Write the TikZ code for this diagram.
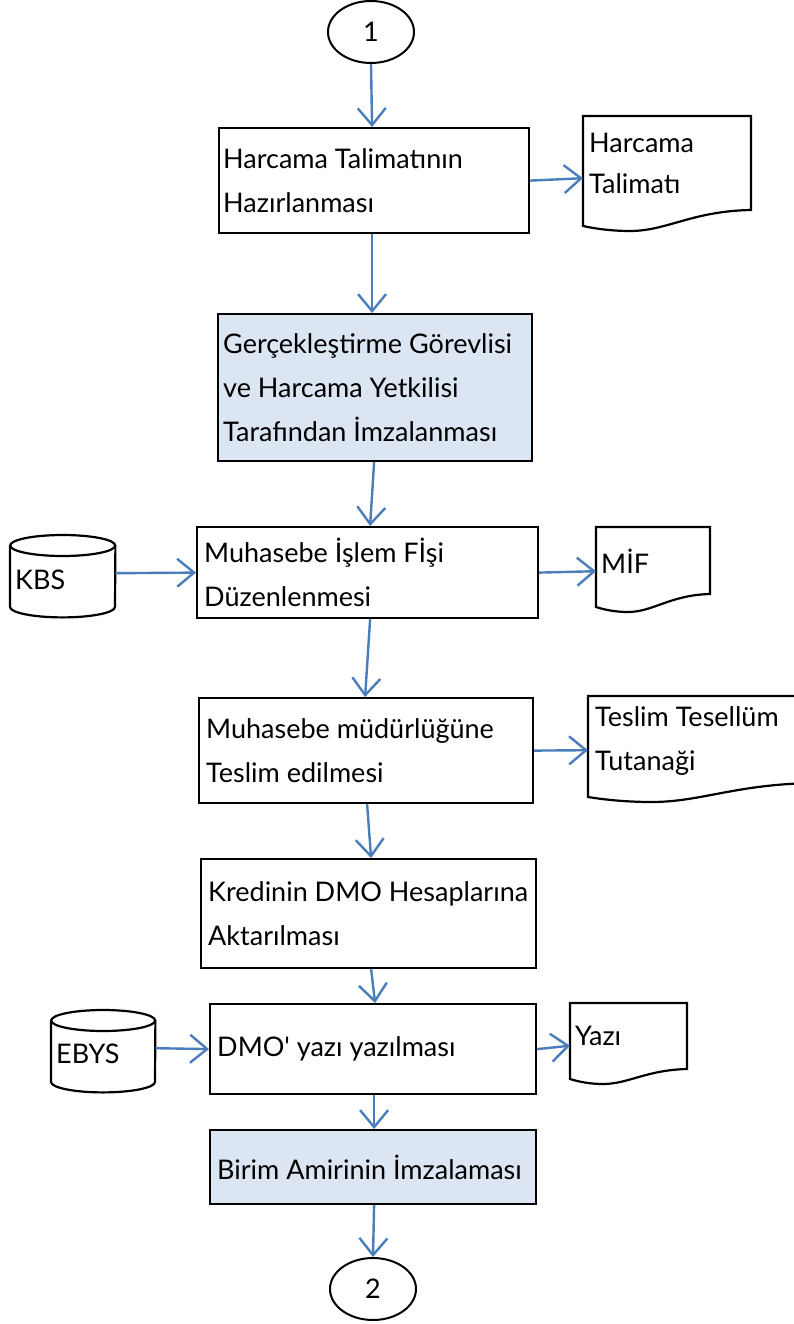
\documentclass[tikz,border=0pt]{standalone}
\usepackage{fontspec}
\setmainfont{Lato}
\usetikzlibrary{arrows.meta,shapes.geometric,calc}
\definecolor{arrowblue}{RGB}{74,126,187}
\definecolor{boxblue}{RGB}{220,230,242}
\tikzset{
  box/.style={draw=black,line width=2.2pt,inner sep=0pt,anchor=north west},
  bluebox/.style={box,fill=boxblue},
  txt/.style={anchor=west,align=left,inner sep=0pt,font=\fontsize{27}{44}\selectfont},
  conn/.style={draw=arrowblue,line width=2.4pt,-{Straight Barb[length=17pt,width=28pt,line width=2.4pt]}},
  outline/.style={draw=black,line width=2.2pt},
  term/.style={ellipse,draw=black,line width=2pt,minimum width=86pt,minimum height=62pt,inner sep=0pt,font=\fontsize{27}{30}\selectfont},
  holder/.style={inner sep=0pt,anchor=north west},
}
\newcommand{\docpath}[5]{%
  \draw[outline] ({#1},{#2}) -- ({#3},{#2}) -- ({#3},{#5})
    .. controls ({#1+0.65*(#3-#1)},{#5+1}) and ({#1+0.5*(#3-#1)},{#4+5}) .. ({#1+0.28*(#3-#1)},{#4+5})
    .. controls ({#1+0.18*(#3-#1)},{#4+5}) and ({#1+0.08*(#3-#1)},{#4+3}) .. ({#1},{#4}) -- cycle;}
\newcommand{\cylpath}[1]{%
  \draw[outline] ([yshift=-10.5pt]#1.north west) -- ([yshift=10.5pt]#1.south west)
    arc[start angle=180,end angle=360,x radius=0.5*\cylw,y radius=10.5pt] -- ([yshift=-10.5pt]#1.north east);
  \draw[outline] ([yshift=-10.5pt]#1.north) ellipse[x radius=0.5*\cylw,y radius=10.5pt];}
\begin{document}
\begin{tikzpicture}[x=1pt,y=-1pt]
\useasboundingbox (0,0) rectangle (794,1324);

% terminators
\node[term] (c1) at (371,32) {1};
\node[term] (c2) at (373,1289) {2};

% process boxes
\node[box,minimum width=310pt,minimum height=105pt] (b1) at (218,127) {};
\node[txt] (b1t) at ([xshift=5pt]b1.west) {Harcama Talimatının\\Hazırlanması};

\node[bluebox,minimum width=314pt,minimum height=147pt] (b2) at (217,313) {};
\node[txt] (b2t) at ([xshift=6pt]b2.west) {Gerçekleştirme Görevlisi\\ve Harcama Yetkilisi\\Tarafından İmzalanması};

\node[box,minimum width=341pt,minimum height=91pt] (b3) at (196,526) {};
\node[txt] (b3t) at ([xshift=8pt]b3.west) {Muhasebe İşlem Fİşi\\Düzenlenmesi};

\node[box,minimum width=334pt,minimum height=105pt] (b4) at (198,697) {};
\node[txt] (b4t) at ([xshift=8pt]b4.west) {Muhasebe müdürlüğüne\\Teslim edilmesi};

\node[box,minimum width=335pt,minimum height=109pt] (b5) at (200,858) {};
\node[txt] (b5t) at ([xshift=8pt]b5.west) {Kredinin DMO Hesaplarına\\Aktarılması};

\node[box,minimum width=326pt,minimum height=90pt] (b6) at (209,1003) {};
\node[txt] (b6t) at ([xshift=8pt]b6.west) {DMO\textquotesingle{} yazı yazılması};

\node[bluebox,minimum width=326pt,minimum height=74pt] (b7) at (209,1129) {};
\node[txt] (b7t) at ([xshift=8pt]b7.west) {Birim Amirinin İmzalaması};

% documents
\docpath{583}{116}{751}{226}{210}
\node[holder,minimum width=168pt,minimum height=110pt] (d1) at (583,116) {};
\node[txt,font=\fontsize{27}{41}\selectfont] (d1t) at (589,163) {Harcama\\Talimatı};

\docpath{596}{527}{710}{607}{594}
\node[holder,minimum width=114pt,minimum height=80pt] (d2) at (596,527) {};
\node[txt] (d2t) at (601,561) {MİF};

\docpath{588}{696}{815}{797}{783}
\node[holder,minimum width=227pt,minimum height=101pt] (d3) at (588,696) {};
\node[txt] (d3t) at (595,741) {Teslim Tesellüm\\Tutanaği};

\docpath{570}{1003}{687}{1079}{1069}
\node[holder,minimum width=117pt,minimum height=76pt] (d4) at (570,1003) {};
\node[txt] (d4t) at (575,1036) {Yazı};

% databases
\def\cylw{105pt}
\node[holder,minimum width=105pt,minimum height=82pt] (kbs) at (10,535) {};
\cylpath{kbs}
\node[txt] (kbst) at (15,580) {KBS};
\def\cylw{104pt}
\node[holder,minimum width=104pt,minimum height=82pt] (ebys) at (51,1010) {};
\cylpath{ebys}
\node[txt] (ebyst) at (56,1054) {EBYS};

% connectors
\draw[conn] (c1.south) -- ([xshift=-2pt]b1.north);
\draw[conn] ([xshift=-2pt]b1.south) -- ([xshift=-3pt]b2.north);
\draw[conn] (b1.east) -- ([yshift=-7pt]d1.west);
\draw[conn] ([xshift=-1pt]b2.south) -- ([xshift=2.5pt]b3.north);
\draw[conn] ([yshift=3pt]kbs.east) -- (b3.west);
\draw[conn] (b3.east) -- ([yshift=-4pt]d2.west);
\draw[conn] ([xshift=2.5pt]b3.south) -- ([xshift=-1pt]b4.north);
\draw[conn] (b4.east) -- ([yshift=-3.5pt]d3.west);
\draw[conn] ([xshift=1pt]b4.south) -- ([xshift=2.5pt]b5.north);
\draw[conn] ([xshift=2.5pt]b5.south) -- ([xshift=2pt]b6.north);
\draw[conn] ([yshift=3pt]ebys.east) -- (b6.west);
\draw[conn] (b6.east) -- ([yshift=-4.5pt]d4.west);
\draw[conn] ([xshift=1pt]b6.south) -- ([xshift=1pt]b7.north);
\draw[conn] ([xshift=1pt]b7.south) -- (c2.north);
\end{tikzpicture}
\end{document}
